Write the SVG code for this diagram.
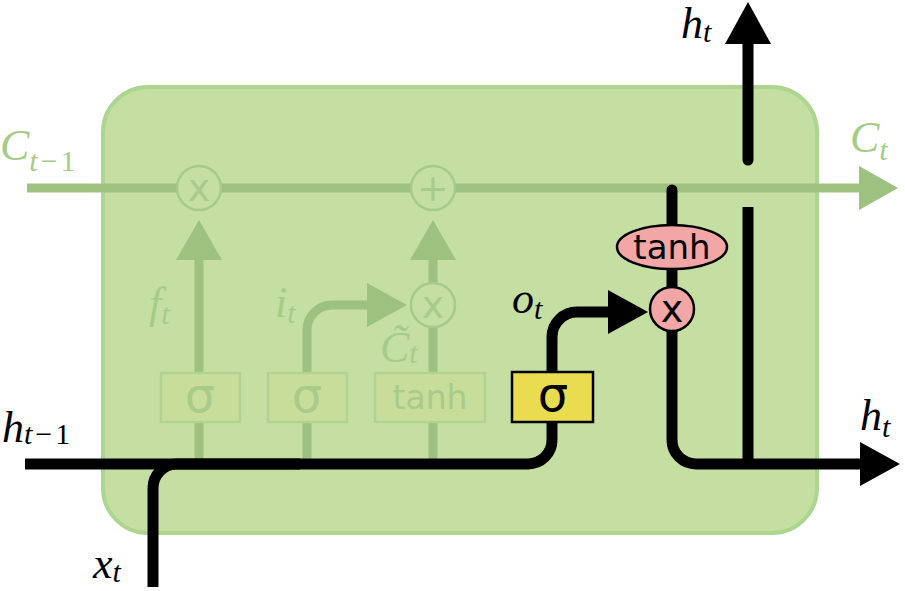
<svg xmlns="http://www.w3.org/2000/svg" width="905" height="591" viewBox="0 0 905 591">
<style>
.fline{fill:none;stroke:#9dc17f;stroke-width:9}
.fhead{fill:#9dc17f}
.fcirc{fill:#c5dfa2;stroke:#a6ca8a;stroke-width:2.5}
.fbox{fill:#c9dd9b;stroke:#b2d293;stroke-width:2.5}
.ftxt{fill:#a8cb8a;font-family:'DejaVu Sans',sans-serif;text-anchor:middle}
.bline{fill:none;stroke:#000;stroke-width:11}
.bhead{fill:#000}
.math{font-family:'Liberation Serif','DejaVu Serif',serif;font-style:italic;font-size:44px}
.sub{font-size:30px}
.stxt{font-family:'DejaVu Sans',sans-serif;text-anchor:middle;fill:#000}
.fade{fill:#a5cc87}
</style>
<g id="cell">
<rect x="103" y="87" width="714" height="446" rx="45" fill="#c5dfa2" stroke="#acd590" stroke-width="4"/>
</g>
<g id="connectors">
<line class="fline" x1="27" y1="188" x2="862" y2="188"/>
<polygon class="fhead" points="898,188 859,166 859,210"/>
<path class="fline" d="M199,464 V255"/>
<polygon class="fhead" points="199,220 176,260 222,260"/>
<path class="fline" d="M307,464 V330 A25,25 0 0 1 332,305 H370"/>
<polygon class="fhead" points="407,305 367,283 367,327"/>
<path class="fline" d="M433,464 V255"/>
<polygon class="fhead" points="433,220 410,260 456,260"/>
<path class="bline" d="M25,464 H528 A24,24 0 0 0 552,440 V400"/>
<path class="bline" d="M153,587 V488 A24,24 0 0 1 177,464 H300"/>
<path class="bline" d="M552,380 V337 A25,25 0 0 1 577,312 H612"/>
<polygon class="bhead" points="648,312 608,290 608,334"/>
<path class="bline" d="M672,190 V440 A24,24 0 0 0 696,464 H862" stroke-linecap="round"/>
<polygon class="bhead" points="900,464 860,442 860,486"/>
<path class="bline" d="M748,207 V464"/>
<path class="bline" d="M748,160 V40" stroke-linecap="round"/>
<polygon class="bhead" points="748,2 725,44 771,44"/>
</g>
<g id="forget-mult">
<circle class="fcirc" cx="199" cy="188" r="22"/>
<text class="ftxt" x="199" y="201" font-size="38">x</text>
</g>
<g id="add">
<circle class="fcirc" cx="433" cy="188" r="22"/>
<text class="ftxt" x="433" y="201" font-size="38">+</text>
</g>
<g id="input-mult">
<circle class="fcirc" cx="433" cy="305" r="22"/>
<text class="ftxt" x="433" y="318" font-size="38">x</text>
</g>
<g id="forget-gate">
<rect class="fbox" x="161" y="373" width="79" height="49"/>
<text class="ftxt" x="200" y="412" font-size="48">σ</text>
</g>
<g id="input-gate">
<rect class="fbox" x="268" y="373" width="79" height="49"/>
<text class="ftxt" x="307" y="412" font-size="48">σ</text>
</g>
<g id="candidate">
<rect class="fbox" x="375" y="373" width="110" height="49"/>
<text class="ftxt" x="430" y="409" font-size="33">tanh</text>
</g>
<g id="output-gate">
<rect x="512" y="372" width="81" height="50" fill="#e9dc4f" stroke="#000" stroke-width="2.5"/>
<text class="stxt" x="553" y="411" font-size="48">σ</text>
</g>
<g id="output-tanh">
<ellipse cx="672" cy="247" rx="55" ry="22" fill="#f2a6a6" stroke="#000" stroke-width="2.5"/>
<text class="stxt" x="672" y="259" font-size="34">tanh</text>
</g>
<g id="output-mult">
<circle cx="672" cy="309" r="22" fill="#f2a6a6" stroke="#000" stroke-width="2.5"/>
<text class="stxt" x="672" y="322" font-size="38">x</text>
</g>
<g id="labels">
<text class="math fade" x="0" y="160">C<tspan class="sub" dy="11" letter-spacing="3">t<tspan font-style="normal">−1</tspan></tspan></text>
<text class="math fade" x="850" y="152">C<tspan class="sub" dy="8">t</tspan></text>
<text class="math fade" x="149" y="318">f<tspan class="sub" dy="6">t</tspan></text>
<text class="math fade" x="275" y="317">i<tspan class="sub" dy="6">t</tspan></text>
<text class="math fade" x="380" y="362">C&#x303;<tspan class="sub" dy="1">t</tspan></text>
<text class="math" x="512" y="313">o<tspan class="sub" dy="6">t</tspan></text>
<text class="math" x="681" y="38" font-size="38">h<tspan class="sub" dy="4" font-size="28">t</tspan></text>
<text class="math" x="860" y="430">h<tspan class="sub" dy="7">t</tspan></text>
<text class="math" x="2" y="442">h<tspan class="sub" dy="2" letter-spacing="3">t<tspan font-style="normal">−1</tspan></tspan></text>
<text class="math" x="93" y="578">x<tspan class="sub" dy="4">t</tspan></text>
</g>
</svg>
